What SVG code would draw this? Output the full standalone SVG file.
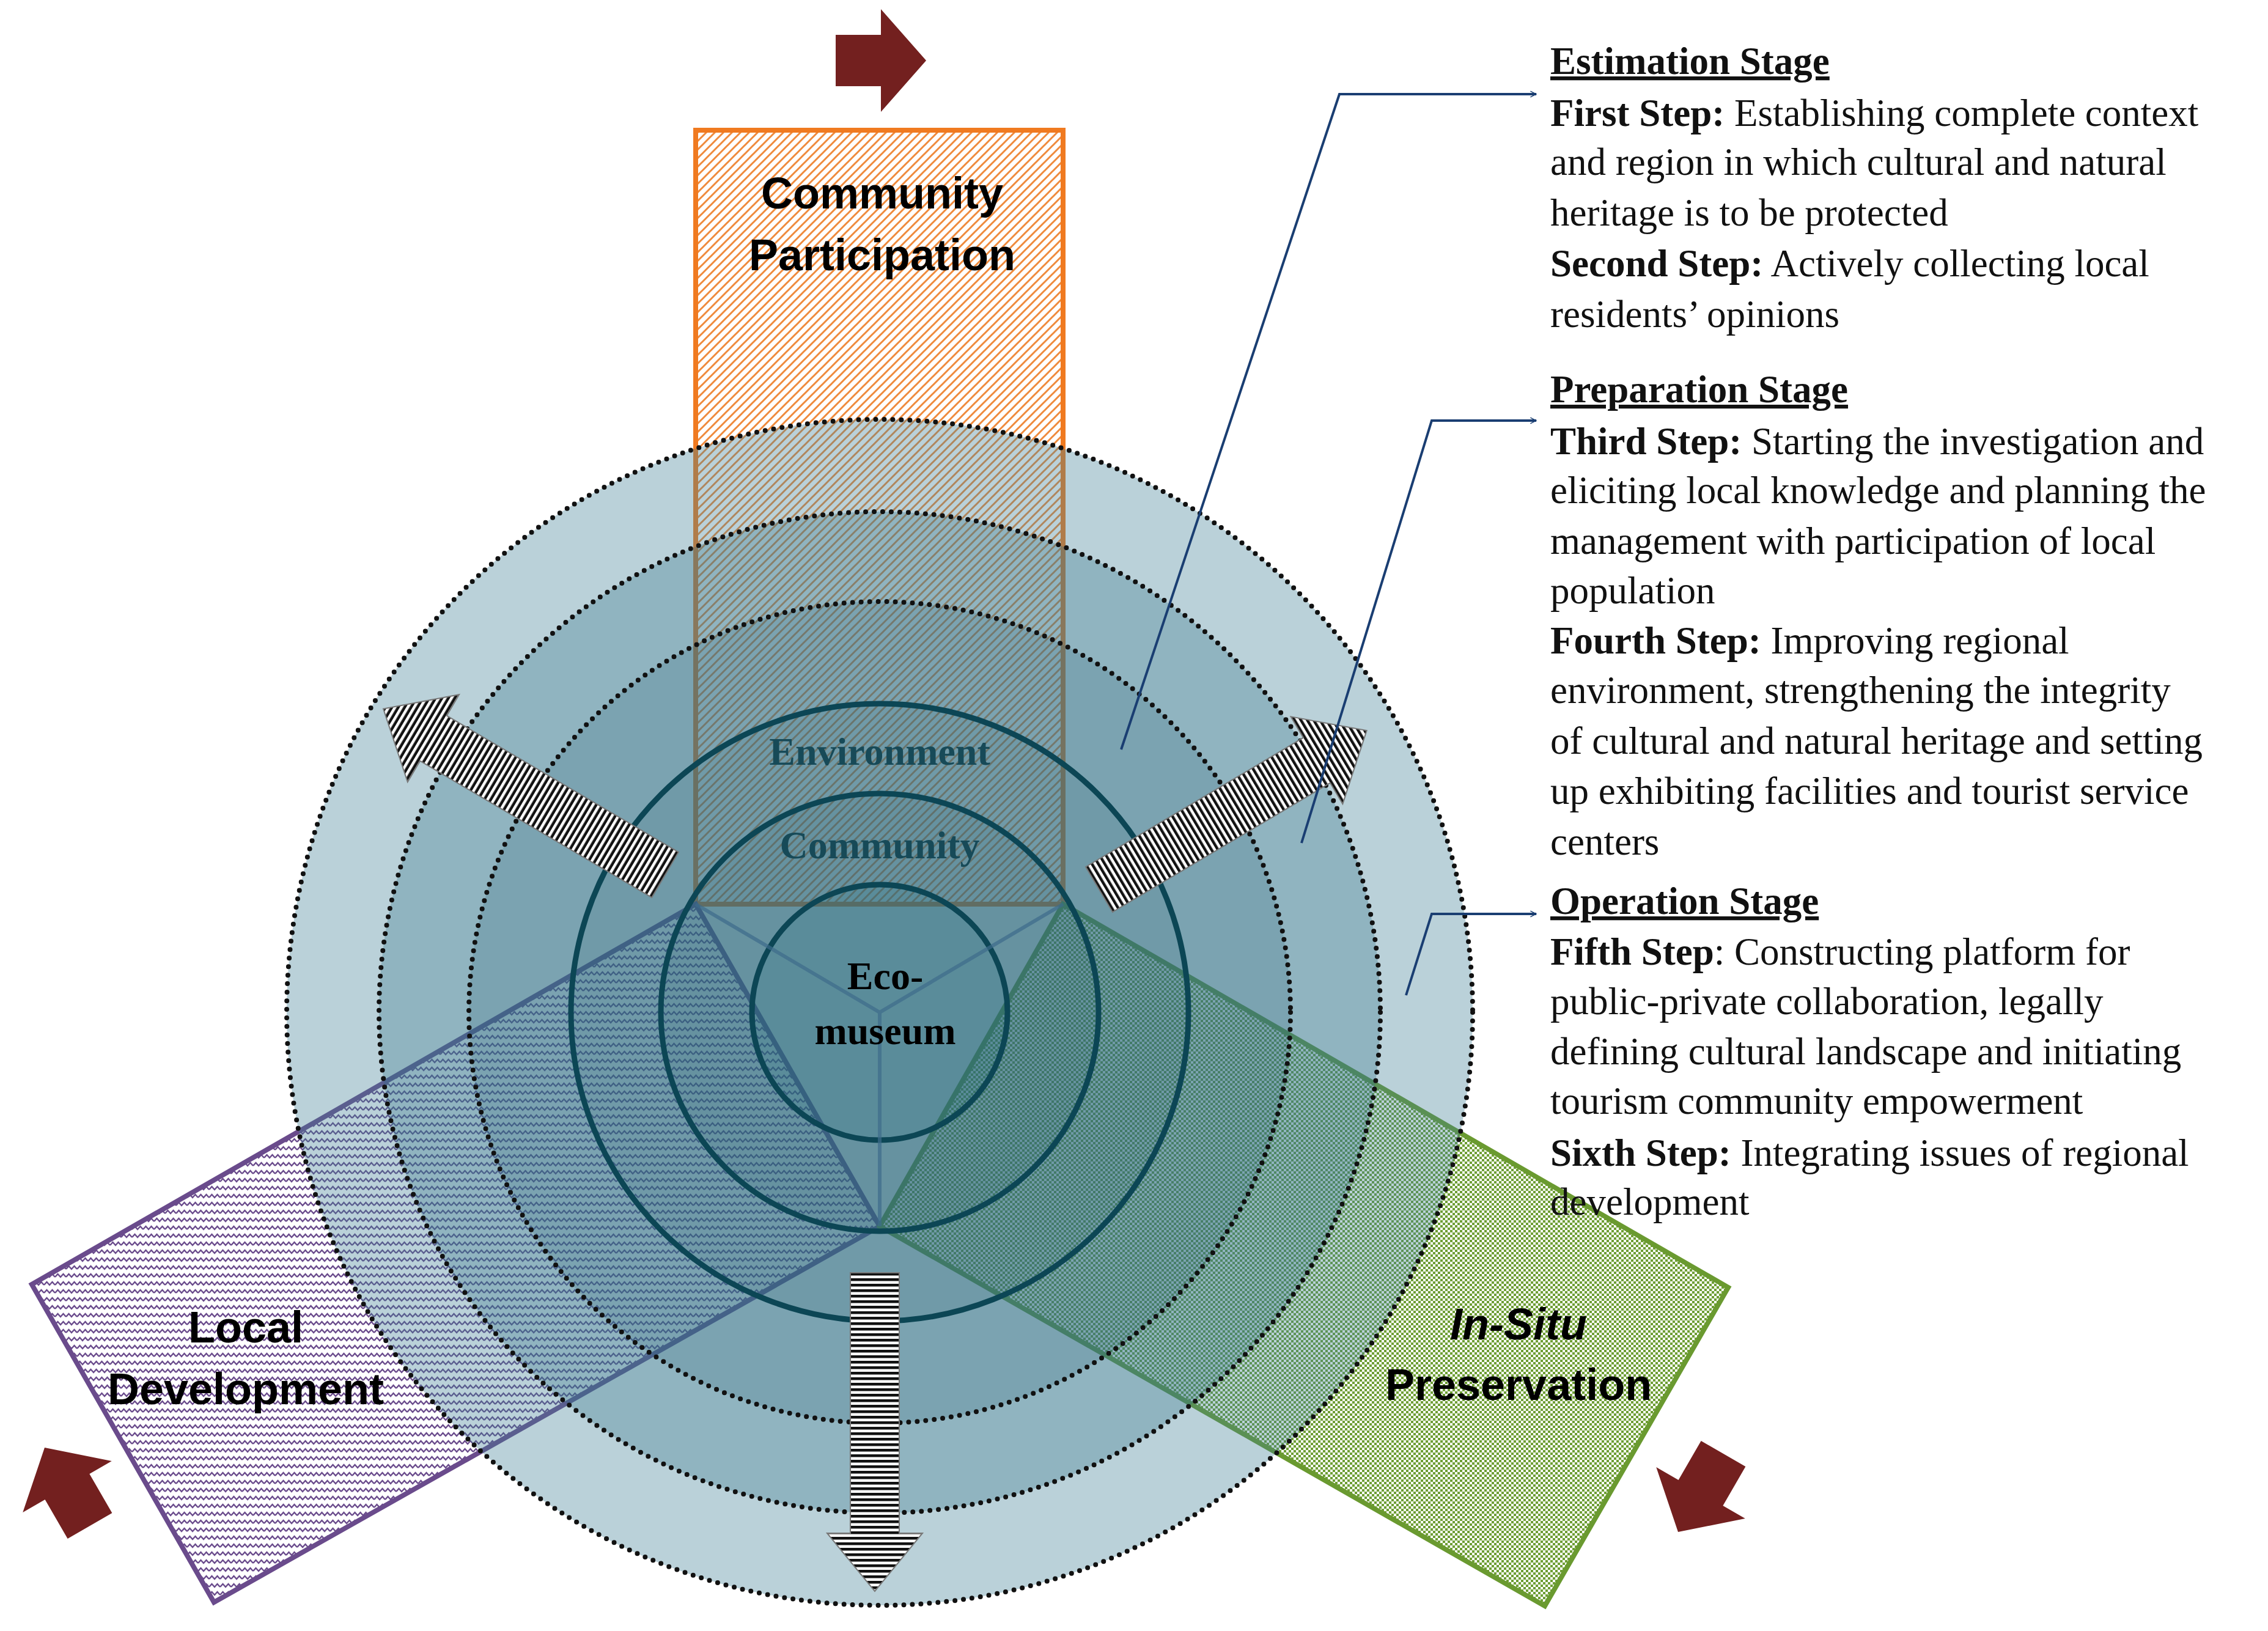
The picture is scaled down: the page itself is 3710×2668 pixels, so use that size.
<svg xmlns="http://www.w3.org/2000/svg" width="3710" height="2668" viewBox="0 0 3710 2668">
<style>
.lbl{font-family:"Liberation Sans",Arial,sans-serif;font-weight:bold;font-size:72px;fill:#000;text-anchor:middle}
.cl{font-family:"Liberation Serif","Times New Roman",serif;font-weight:bold;font-size:64px;text-anchor:middle}
.tx{font-family:"Liberation Serif","Times New Roman",serif;font-size:63px;fill:#111}
.b{font-weight:bold}
.stage{font-weight:bold;text-decoration:underline}
.dot{stroke:#111;stroke-width:8;stroke-dasharray:0 14;stroke-linecap:round}
.sol{stroke:#0c4655;stroke-width:9}
.conn{fill:none;stroke:#1a3e72;stroke-width:4}
.red{fill:#73201f}
.gar{fill:url(#stripe);stroke:#777;stroke-width:2}
</style>
<defs>
<pattern id="hatch" width="14" height="14" patternUnits="userSpaceOnUse">
<rect width="14" height="14" fill="#fff"/>
<path d="M-2,2 L2,-2 M0,14 L14,0 M12,16 L16,12" stroke="#ef8a3c" stroke-width="3"/>
</pattern>
<pattern id="zig" width="18" height="13" patternUnits="userSpaceOnUse">
<rect width="18" height="13" fill="#fff"/>
<path d="M0,9 L4.5,4 L9,9 L13.5,4 L18,9" fill="none" stroke="#6a4b8c" stroke-width="2.5"/>
</pattern>
<pattern id="chk" width="8" height="8" patternUnits="userSpaceOnUse">
<rect width="8" height="8" fill="#fff"/>
<rect width="4" height="4" fill="#6e9e35"/>
<rect x="4" y="4" width="4" height="4" fill="#6e9e35"/>
</pattern>
<pattern id="stripe" width="9" height="9" patternUnits="userSpaceOnUse">
<rect width="9" height="9" fill="#fff"/>
<rect width="4.5" height="9" fill="#111"/>
</pattern>
<marker id="oa" viewBox="0 0 20 20" refX="18" refY="10" markerWidth="12" markerHeight="12" markerUnits="userSpaceOnUse" orient="auto">
<path d="M2,2 L18,10 L2,18" fill="none" stroke="#1a3e72" stroke-width="2.5"/>
</marker>
<path id="bigred" d="M-74,-42 L0,-42 L0,-84 L74,0 L0,84 L0,42 L-74,42 Z"/>
</defs>

<g id="bar-community">
<rect x="1138" y="213" width="601" height="1266" fill="url(#hatch)" stroke="#f07a20" stroke-width="8"/>
</g>
<g id="bar-local">
<polygon points="1138,1479 52,2101 350,2621 1439,2006" fill="url(#zig)" stroke="#6a4b8c" stroke-width="8"/>
</g>
<g id="bar-insitu">
<polygon points="1739,1479 2827,2106 2527,2627 1439,2006" fill="url(#chk)" stroke="#6a9a30" stroke-width="8"/>
</g>

<g id="circles">
<circle cx="1439" cy="1656" r="970" fill="#3f7f95" fill-opacity="0.36" class="dot"/>
<circle cx="1439" cy="1656" r="819" fill="#2f6f88" fill-opacity="0.3" class="dot"/>
<circle cx="1439" cy="1656" r="672" fill="#2a5f78" fill-opacity="0.2" class="dot"/>
<circle cx="1439" cy="1656" r="505" fill="#22586c" fill-opacity="0.12" class="sol"/>
<circle cx="1439" cy="1656" r="358" fill="#1e5a6c" fill-opacity="0.12" class="sol"/>
<circle cx="1439" cy="1656" r="209" fill="#1a6a7a" fill-opacity="0.15" class="sol"/>
</g>
<g id="hub-lines" stroke="#3d6b8a" stroke-width="6" fill="none" opacity="0.7">
<path d="M1138,1479 L1439,1656 L1739,1479 M1439,1656 L1439,2006"/>
</g>

<g id="gray-arrows">
<g transform="translate(1088,1431) rotate(210.5)"><path class="gar" d="M0,-43 L440,-43 L440,-83 L535,0 L440,83 L440,43 L0,43 Z"/></g>
<g transform="translate(1798,1455) rotate(-30.7)"><path class="gar" d="M0,-43 L414,-43 L414,-83 L509,0 L414,83 L414,43 L0,43 Z"/></g>
<g transform="translate(1431,2082) rotate(90)"><path class="gar" d="M0,-40 L426,-40 L426,-78 L521,0 L426,78 L426,40 L0,40 Z"/></g>
</g>

<g id="red-arrows">
<use href="#bigred" class="red" transform="translate(1441,99)"/>
<use href="#bigred" class="red" transform="translate(110,2432) rotate(-120)"/>
<use href="#bigred" class="red" transform="translate(2782,2442) rotate(120)"/>
</g>

<g id="labels">
<text class="lbl" x="1443" y="341">Community</text>
<text class="lbl" x="1443" y="442">Participation</text>
<text class="lbl" x="402" y="2196">Local</text>
<text class="lbl" x="402" y="2297">Development</text>
<text class="lbl" x="2484" y="2191" font-style="italic">In-Situ</text>
<text class="lbl" x="2484" y="2290">Preservation</text>
<text class="cl" x="1439" y="1251" fill="#174a58">Environment</text>
<text class="cl" x="1439" y="1404" fill="#174a58">Community</text>
<text class="cl" x="1448" y="1618" fill="#000">Eco-</text>
<text class="cl" x="1448" y="1708" fill="#000">museum</text>
</g>

<g id="connectors">
<polyline class="conn" points="1834,1226 2191,154 2513,154" marker-end="url(#oa)"/>
<polyline class="conn" points="2129,1379 2342,688 2513,688" marker-end="url(#oa)"/>
<polyline class="conn" points="2300,1628 2342,1495 2513,1495" marker-end="url(#oa)"/>
</g>

<g id="stages" class="tx">
<text x="2536" y="121" class="stage">Estimation Stage</text>
<text x="2536" y="206"><tspan class="b">First Step:</tspan> Establishing complete context</text>
<text x="2536" y="286">and region in which cultural and natural</text>
<text x="2536" y="369">heritage is to be protected</text>
<text x="2536" y="452"><tspan class="b">Second Step:</tspan> Actively collecting local</text>
<text x="2536" y="535">residents’ opinions</text>
<text x="2536" y="658" class="stage">Preparation Stage</text>
<text x="2536" y="743"><tspan class="b">Third Step:</tspan> Starting the investigation and</text>
<text x="2536" y="823">eliciting local knowledge and planning the</text>
<text x="2536" y="906">management with participation of local</text>
<text x="2536" y="987">population</text>
<text x="2536" y="1069"><tspan class="b">Fourth Step:</tspan> Improving regional</text>
<text x="2536" y="1150">environment, strengthening the integrity</text>
<text x="2536" y="1233">of cultural and natural heritage and setting</text>
<text x="2536" y="1315">up exhibiting facilities and tourist service</text>
<text x="2536" y="1398">centers</text>
<text x="2536" y="1495" class="stage">Operation Stage</text>
<text x="2536" y="1578"><tspan class="b">Fifth Step</tspan>:  Constructing platform for</text>
<text x="2536" y="1659">public-private collaboration, legally</text>
<text x="2536" y="1741">defining cultural landscape and initiating</text>
<text x="2536" y="1822">tourism community empowerment</text>
<text x="2536" y="1907"><tspan class="b">Sixth Step:</tspan> Integrating issues of regional</text>
<text x="2536" y="1987">development</text>
</g>
</svg>
